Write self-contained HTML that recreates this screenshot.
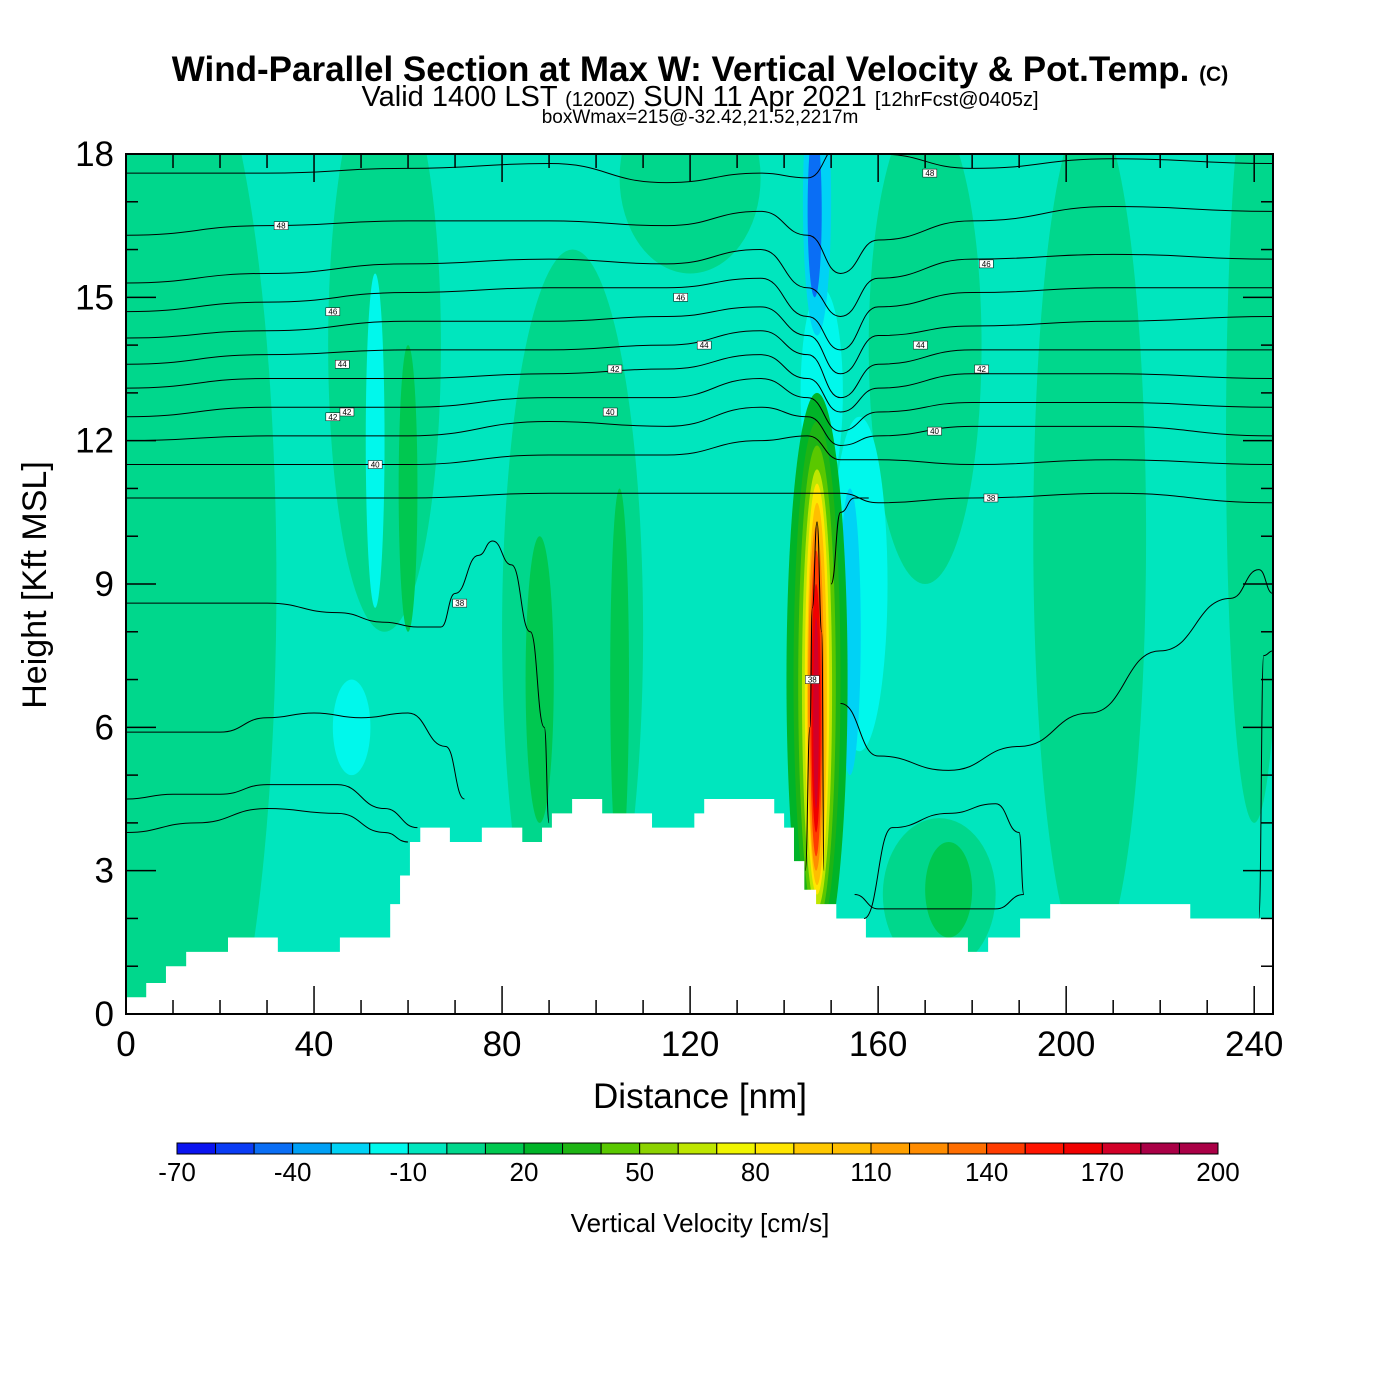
<!DOCTYPE html>
<html><head><meta charset="utf-8"><style>
html,body{margin:0;padding:0;background:#fff;}
svg{display:block;font-family:"Liberation Sans",Arial,sans-serif;}
</style></head><body>
<svg id="chart" width="1400" height="1400" viewBox="0 0 1400 1400">
<g>
<text x="700" y="81" text-anchor="middle" font-size="35" font-weight="bold">Wind-Parallel Section at Max W: Vertical Velocity &amp; Pot.Temp. <tspan font-size="21">(C)</tspan></text>
<text x="700" y="106" text-anchor="middle" font-size="29">Valid 1400 LST <tspan font-size="20">(1200Z)</tspan> SUN 11 Apr 2021 <tspan font-size="20">[12hrFcst@0405z]</tspan></text>
<text x="700" y="123" text-anchor="middle" font-size="19">boxWmax=215@-32.42,21.52,2217m</text>
</g>
<defs><clipPath id="plotclip"><rect x="126" y="154" width="1147" height="860"/></clipPath></defs>
<g id="fills" clip-path="url(#plotclip)"></g>
<g id="terrain" clip-path="url(#plotclip)"></g>
<g id="contours" clip-path="url(#plotclip)"></g>
<g id="axes"></g>
<g id="colorbar"></g>
<text x="700" y="1108" text-anchor="middle" font-size="35">Distance [nm]</text>
<text transform="translate(46,585) rotate(-90)" text-anchor="middle" font-size="34">Height [Kft MSL]</text>
<text x="700" y="1232" text-anchor="middle" font-size="26">Vertical Velocity [cm/s]</text>
</svg>
<script>
// ---- data ----
const cbLevels = [-70,-60,-50,-40,-30,-20,-10,0,10,20,30,40,50,60,70,80,90,100,110,120,130,140,150,160,170,180,190,200];
const cbColors = ["#0a14f0","#0a3cf5","#0a6ef5","#00a0f5","#00d2f5","#00f8ec","#00e6be","#00d78c","#00c850","#00b428","#1eb414","#5ac800","#8cd200","#bee600","#f0f500","#ffe600","#ffc800","#ffbe00","#ffa000","#ff8c00","#ff6e00","#ff3c00","#ff1400","#f00000","#d20028","#aa0046","#aa0046"];
const cbTicks = [-70,-40,-10,20,50,80,110,140,170,200];
const xTicks = [0,40,80,120,160,200,240];
const yTicks = [0,3,6,9,12,15,18];
// fill regions: center distance (nm), center height (kft), half-width (nm), half-height (kft), velocity (cm/s)
const regCx = [10,55,95,120,170,205,240,173,88,60,105,175,53,48,156,148,154,147,146.5, 147,147,147,147,147,147,146.8,146.8,146.8,146.8];
const regCy = [9,14,8,17.5,14,10,12,2.5,7,11,7,2.6,12,6,9,13,8,17,16.8, 7.0,7.0,6.9,6.8,6.8,6.7,6.6,6.5,6.4,6.3];
const regRx = [22,12,15,15,12,12,6,12,3,2,2,5,2,4,6,4.5,2.3,3,1.5, 6.5,5,4,3.2,2.6,2.1,1.7,1.3,1.0,0.6];
const regRy = [12,6,8,2,5,9,8,1.6,3,3,4,1,3.5,1,3.5,2.2,3,2.8,1.8, 6.0,5.4,5.0,4.6,4.3,4.0,3.6,3.2,2.6,2.0];
const regVal = [5,5,5,5,5,5,5,5,15,15,15,15,-15,-15,-15,-15,-25,-25,-45, 25,35,45,65,85,105,125,145,165,175];
// terrain step profile
const terrX = [0,4.3,8.5,12.8,21.7,32.3,45.5,56.2,58.3,60.4,62.6,68.9,75.7,84.3,88.5,90.6,94.9,101.3,111.9,120.9,123,137.9,140,142.1,144.3,146.8,151.1,157.4,179.1,183.4,190.2,196.6,226.4,244];
const terrH = [0.35,0.65,1.0,1.3,1.6,1.3,1.6,2.3,2.9,3.6,3.9,3.6,3.9,3.6,3.9,4.2,4.5,4.2,3.9,4.2,4.5,4.2,3.9,3.2,2.6,2.3,2.0,1.6,1.3,1.6,2.0,2.3,2.0];
// potential temperature contours (heights in kft at node distances)
const cNodes = [0,30,60,90,115,135,145,152,160,180,210,244];
const theta1 = [17.6,17.6,17.7,17.8,17.4,17.6,17.5,18.2,18.0,17.7,17.9,17.8];
const theta2 = [16.3,16.5,16.6,16.6,16.5,16.8,16.3,15.5,16.2,16.6,16.9,16.8];
const theta3 = [15.3,15.5,15.7,15.8,15.7,16.0,15.2,14.6,15.4,15.8,15.9,15.8];
const theta4 = [14.7,14.9,15.1,15.2,15.2,15.4,14.6,13.9,14.8,15.1,15.2,15.2];
const theta5 = [14.15,14.3,14.5,14.5,14.6,14.8,14.2,13.4,14.2,14.4,14.5,14.6];
const theta6 = [13.6,13.8,13.9,13.9,14.0,14.3,13.8,12.9,13.6,13.9,13.9,13.9];
const theta7 = [13.1,13.3,13.3,13.4,13.5,13.8,13.3,12.6,13.1,13.4,13.4,13.3];
const theta8 = [12.5,12.7,12.7,12.9,12.9,13.3,12.9,12.2,12.6,12.8,12.8,12.7];
const theta9 = [12.0,12.1,12.1,12.4,12.3,12.7,12.5,11.9,12.1,12.3,12.3,12.1];
const theta10 = [11.5,11.5,11.5,11.7,11.7,12.0,12.1,11.6,11.6,11.5,11.6,11.5];
const theta11 = [10.8,10.8,10.8,10.9,10.9,10.9,10.9,10.9,10.7,10.8,10.9,10.7];
// lower contours as free polylines (distance nm, height kft)
const low1X = [0,15,30,45,55,62,67,70,75,78,82,86,89,90];
const low1Y = [8.6,8.6,8.6,8.4,8.2,8.1,8.1,8.8,9.6,9.9,9.4,8.0,6.0,4.0];
const low2X = [0,10,20,30,40,50,60,68,72];
const low2Y = [5.9,5.9,5.9,6.2,6.3,6.2,6.3,5.6,4.5];
const low3X = [0,10,20,30,45,55,62];
const low3Y = [4.5,4.6,4.6,4.8,4.8,4.3,3.9];
const low4X = [0,15,30,45,55,60];
const low4Y = [3.8,4.0,4.3,4.2,3.8,3.6];
const low5X = [152,160,175,190,205,220,235,241,244];
const low5Y = [6.5,5.4,5.1,5.6,6.3,7.6,8.7,9.3,8.8];
const low6X = [150,152,155,158];
const low6Y = [9.0,10.5,10.8,10.8];
const low7X = [144.5,145.5,146,147,148,148.5];
const low7Y = [3.0,6.0,8.5,10.3,8.0,3.0];
const low8X = [157,163,175,185,190,191,185,160,155];
const low8Y = [2.0,3.9,4.2,4.4,3.8,2.5,2.2,2.2,2.5];
const low9X = [241,242,244];
const low9Y = [2.0,7.5,7.6];
const labelX = [33,44,46,47,44,53,103,104,118,123,171,169,172,182,183,184,71,146];
const labelY = [16.5,14.7,13.6,12.6,12.5,11.5,12.6,13.5,15.0,14.0,17.6,14.0,12.2,13.5,15.7,10.8,8.6,7.0];
const labelT = ["48","46","44","42","42","40","40","42","46","44","48","44","40","42","46","38","38","38"];

// ---- scales ----
const X0=126,X1=1273,Y0=1014,Y1=154;
const xs = d => X0 + d*(X1-X0)/244;
const ys = h => Y0 - h*(Y0-Y1)/18;
const NS="http://www.w3.org/2000/svg";
function mk(tag,attrs,parent){const e=document.createElementNS(NS,tag);for(const k in attrs)e.setAttribute(k,attrs[k]);parent.appendChild(e);return e;}
function colorFor(v){for(let i=0;i<cbLevels.length-1;i++){if(v>=cbLevels[i]&&v<cbLevels[i+1])return cbColors[i];}return cbColors[cbColors.length-1];}

const fills=document.getElementById('fills');
const bg=mk('rect',{x:X0,y:Y1,width:X1-X0,height:Y0-Y1,fill:colorFor(-5)},fills);


for(let i=0;i<regVal.length;i++){
  const e=mk('ellipse',{cx:xs(regCx[i]),cy:ys(regCy[i]),rx:Math.abs(xs(regRx[i])-xs(0)),ry:Math.abs(ys(0)-ys(regRy[i])),fill:colorFor(regVal[i])},fills);
  
  
}

// terrain
let tp=`M${xs(0)},${ys(0)}`;
for(let i=0;i<terrH.length;i++){tp+=` L${xs(terrX[i])},${ys(terrH[i])} L${xs(terrX[i+1])},${ys(terrH[i])}`;}
tp+=` L${xs(244)},${ys(0)} Z`;
const tEl=mk('path',{d:tp,fill:'#fff',stroke:'none'},document.getElementById('terrain'));



// contours
const cg=document.getElementById('contours');
function smooth(px,py){let d=`M${px[0]},${py[0]}`;for(let i=1;i<px.length;i++){const mx=(px[i-1]+px[i])/2;d+=` C${mx},${py[i-1]} ${mx},${py[i]} ${px[i]},${py[i]}`;}return d;}
const thetas=[theta1,theta2,theta3,theta4,theta5,theta6,theta7,theta8,theta9,theta10,theta11];
thetas.forEach(arr=>{
  const p=mk('path',{d:smooth(cNodes.map(xs),arr.map(ys)),fill:'none',stroke:'#000','stroke-width':1},cg);
  
  
});
[[low1X,low1Y],[low2X,low2Y],[low3X,low3Y],[low4X,low4Y],[low5X,low5Y],[low6X,low6Y],[low7X,low7Y],[low8X,low8Y],[low9X,low9Y]].forEach(([a,b])=>{
  const p=mk('path',{d:smooth(a.map(xs),b.map(ys)),fill:'none',stroke:'#000','stroke-width':1},cg);
  
  
});
for(let i=0;i<labelT.length;i++){
  const r=mk('rect',{x:xs(labelX[i])-7,y:ys(labelY[i])-4,width:14,height:8,fill:'#fff',stroke:'#000','stroke-width':0.5},cg);
  
  
  const t=mk('text',{x:xs(labelX[i]),y:ys(labelY[i])+3,'font-size':8,'text-anchor':'middle'},cg);
  t.textContent=labelT[i];
  
  
}

// axes
const ag=document.getElementById('axes');
const fr=mk('rect',{x:X0,y:Y1,width:X1-X0,height:Y0-Y1,fill:'none',stroke:'#000','stroke-width':2},ag);


for(let d=0;d<=244;d+=10){
  const big=d%40===0, L=big?28:14;
  const a=mk('line',{x1:xs(d),x2:xs(d),y1:Y0,y2:Y0-L,stroke:'#000','stroke-width':1.5},ag);
  
  
  const b=mk('line',{x1:xs(d),x2:xs(d),y1:Y1,y2:Y1+L,stroke:'#000','stroke-width':1.5},ag);
  
  
}
xTicks.forEach(d=>{
  const t=mk('text',{x:xs(d),y:1056,'font-size':35,'text-anchor':'middle'},ag);
  t.textContent=d;
  
  
});
for(let h=0;h<=18;h+=1){
  const big=h%3===0, L=big?30:12;
  const a=mk('line',{x1:X0,x2:X0+L,y1:ys(h),y2:ys(h),stroke:'#000','stroke-width':1.5},ag);
  
  
  const b=mk('line',{x1:X1,x2:X1-L,y1:ys(h),y2:ys(h),stroke:'#000','stroke-width':1.5},ag);
  
  
}
yTicks.forEach(h=>{
  const t=mk('text',{x:114,y:ys(h)+12,'font-size':35,'text-anchor':'end'},ag);
  t.textContent=h;
  
  
});

// colorbar
const cb=document.getElementById('colorbar');
const C0=177,C1=1218,CY=1143,CH=11;
const cx=v=>C0+(v+70)*(C1-C0)/270;
for(let i=0;i<cbLevels.length-1;i++){
  const r=mk('rect',{x:cx(cbLevels[i]),y:CY,width:cx(cbLevels[i+1])-cx(cbLevels[i]),height:CH,fill:cbColors[i],stroke:'#000','stroke-width':1},cb);
  
  
}
cbTicks.forEach(v=>{
  const t=mk('text',{x:cx(v),y:1181,'font-size':26,'text-anchor':'middle'},cb);
  t.textContent=v;
  
  
});
</script>
</body></html>
